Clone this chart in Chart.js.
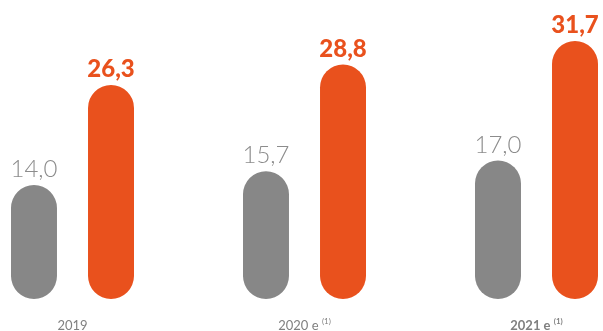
<!DOCTYPE html>
<html>
<head>
<meta charset="utf-8">
<script src="https://cdn.jsdelivr.net/npm/chart.js@4/dist/chart.umd.min.js"></script>
<style>
  html, body { margin: 0; padding: 0; background: #fff; }
  #wrap { width: 603px; height: 331px; }
</style>
</head>
<body>
<div id="wrap"><canvas id="revChart"></canvas></div>
<script>
const years = ["2019", "2020 e", "2021 e"];
const yearNotes = ["", "(1)", "(1)"];
const boldYear = [false, false, true];
const grayValues = [14.0, 15.7, 17.0];
const orangeValues = [26.3, 28.8, 31.7];

const GRAY = "#878787";
const ORANGE = "#e9511d";
const FONT = "Lato, 'Open Sans', sans-serif";

function fmt(v) {
    return v.toFixed(1).replace(".", ",");
}

// value labels above each bar + category labels under the chart
const labelsPlugin = {
    id: "labels",
    afterDatasetsDraw(chart) {
        const ctx = chart.ctx;
        ctx.save();
        ctx.textAlign = "center";
        ctx.textBaseline = "alphabetic";
        chart.data.datasets.forEach((ds, di) => {
            const meta = chart.getDatasetMeta(di);
            meta.data.forEach((bar, i) => {
                ctx.font = (di === 1 ? "900 " : "300 ") + "24px " + FONT;
                ctx.fillStyle = di === 1 ? ORANGE : "#8c8c8c";
                ctx.fillText(fmt(ds.data[i]), bar.x, bar.y - 8);
            });
        });

        const x = chart.scales.x;
        const baseY = 330;
        years.forEach((yr, i) => {
            const cx = x.getPixelForValue(i);
            const mainFont = (boldYear[i] ? "bold " : "") + "13px " + FONT;
            const noteFont = (boldYear[i] ? "bold " : "") + "8px " + FONT;
            ctx.font = mainFont;
            const text = yearNotes[i] ? yr + " " : yr;
            const w1 = ctx.measureText(text).width;
            ctx.font = noteFont;
            const w2 = yearNotes[i] ? ctx.measureText(yearNotes[i]).width : 0;
            const start = cx - (w1 + w2) / 2;
            ctx.textAlign = "left";
            ctx.fillStyle = "#808080";
            ctx.font = mainFont;
            ctx.fillText(text, start, baseY);
            if (yearNotes[i]) {
                ctx.font = noteFont;
                ctx.fillText(yearNotes[i], start + w1, baseY - 6);
            }
        });
        ctx.restore();
    }
};

new Chart(document.getElementById("revChart"), {
    type: "bar",
    data: {
        labels: years,
        datasets: [
            {
                data: grayValues,
                backgroundColor: GRAY,
                borderRadius: 30,
                borderSkipped: false,
                clip: false
            },
            {
                data: orangeValues,
                backgroundColor: ORANGE,
                borderRadius: 30,
                borderSkipped: false,
                clip: false
            }
        ]
    },
    options: {
        responsive: true,
        maintainAspectRatio: false,
        animation: false,
        categoryPercentage: 0.664,
        barPercentage: 0.597,
        layout: { padding: { left: 72.5, right: 66.5, top: 0, bottom: 32 } },
        plugins: { legend: { display: false }, tooltip: { enabled: false } },
        scales: {
            x: { display: false, offset: false },
            y: { display: false, min: 0, max: 36.73 }
        }
    },
    plugins: [labelsPlugin]
});
</script>
</body>
</html>
